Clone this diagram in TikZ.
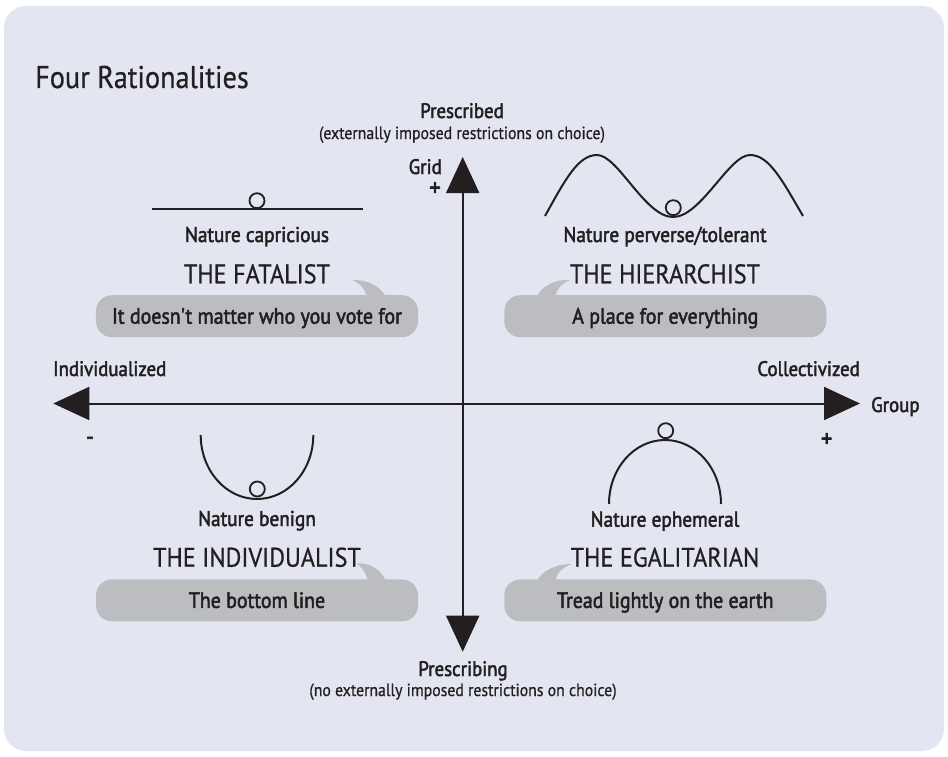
\documentclass[tikz,border=0pt]{standalone}
\usepackage{fontspec}
\setmainfont{PT Sans}[FakeStretch=0.9,FakeBold=0.6]
\newfontfamily\medfont{PT Sans}[FakeStretch=0.9,FakeBold=2.2]
\usetikzlibrary{arrows.meta}
\definecolor{panelbg}{HTML}{E3E5F1}
\definecolor{bubblegray}{HTML}{BCBDC1}
\definecolor{ink}{HTML}{231F20}
\tikzset {
    axis/.style={draw=ink, line width=2bp},
    curve/.style={draw=ink, line width=2bp},
    ball/.style={circle, draw=ink, line width=1.8bp, minimum size=15bp, inner sep=0pt},
    nature/.style={font=\medfont\fontsize{21.5}{25}\selectfont, anchor=base},
    role/.style={font=\fontsize{27}{32}\selectfont, anchor=base},
    axistag/.style={font=\medfont\fontsize{21}{25}\selectfont},
    sign/.style={font=\medfont\fontsize{25}{30}\selectfont, text height=8bp, text depth=0pt},
    bubble/.style={fill=bubblegray, rounded corners=16bp, minimum width=322bp,
        minimum height=42bp, text height=15bp, text depth=0pt,
        font=\medfont\fontsize{22.2}{26}\selectfont},
    tail/.style={fill=bubblegray}
}
\begin{document}
\begin{tikzpicture}[
  x=1bp, y=-1bp,
  every node/.style={text=ink, inner sep=0pt}
  ]
\useasboundingbox (0,0) rectangle (948,757);
\fill[panelbg, rounded corners=22bp] (4,6) rectangle (944,751);

\node[anchor=base west, font=\fontsize{31.5}{36}\selectfont] (title) at (35,88) {Four Rationalities};

% axes
\coordinate (gW) at (53.3,403.5);
\coordinate (gE) at (860,403.5);
\coordinate (gN) at (462.7,157);
\coordinate (gS) at (462.7,651.7);
\draw[axis, {Triangle[length=36bp, width=33bp]}-{Triangle[length=36bp, width=33bp]}] (gN) -- (gS);
\draw[axis, {Triangle[length=36bp, width=33bp]}-{Triangle[length=36bp, width=33bp]}] (gW) -- (gE);

\node[axistag, anchor=base] (presc) at (462,118) {Prescribed};
\node[anchor=base, font=\fontsize{17.6}{21}\selectfont] (presc-t) at (462,139) {(externally imposed restrictions on choice)};
\node[axistag, anchor=base east] (grid) at (442,174) {Grid};
\node[sign] (grid-p) at (435,192) {+};
\node[sign] (minus) at (90,441) {-};
\node[axistag, anchor=base west] (indiv-t) at (53,376) {Individualized};
\node[axistag, anchor=base east] (coll-t) at (860,376) {Collectivized};
\node[axistag, anchor=base west] (group) at (871,412) {Group};
\node[sign] (group-p) at (826.7,443) {+};
\node[axistag, anchor=base] (prescing) at (463,676) {Prescribing};
\node[anchor=base, font=\fontsize{17.6}{21}\selectfont] (prescing-t) at (463,696) {(no externally imposed restrictions on choice)};

% fatalist
\draw[curve] (151.7,209.3) -- (362.7,209.3);
\node[ball] (fat-o) at (257,200.7) {};
\node[nature] (fat-n) at (257,242) {Nature capricious};
\node[role] (fat-r) at (257,283.3) {THE FATALIST};
\node[bubble] (fat-b) at (257,316.2) {It doesn\textquotesingle t matter who you vote for};
\fill[tail] (351.7,280) .. controls (368,279) and (381,287) .. (386,297) -- (367,297) .. controls (365,289) and (360,283) .. (351.7,280);

% hierarchist
\draw[curve] (545,216) .. controls (565,180) and (578,155) .. (597,155)
  .. controls (618,155) and (645,217) .. (673,217)
  .. controls (701,217) and (729,155) .. (750,155)
  .. controls (769,155) and (782,180) .. (803,216);
\node[ball] (hier-o) at (673.3,207.7) {};
\node[nature] (hier-n) at (665,242) {Nature perverse/tolerant};
\node[role] (hier-r) at (665,283.3) {THE HIERARCHIST};
\node[bubble] (hier-b) at (665.3,316.2) {A place for everything};
\fill[tail] (570,280) .. controls (554,279) and (541,287) .. (537,297) -- (555,297) .. controls (557,289) and (562,283) .. (570,280);

% individualist
\draw[curve] (200.7,435) arc[start angle=180, end angle=360, x radius=56.3bp, y radius=64bp];
\node[ball] (indiv-o) at (257.3,489) {};
\node[nature] (indiv-n) at (257,526) {Nature benign};
\node[role] (indiv-r) at (257,566.7) {THE INDIVIDUALIST};
\node[bubble] (indiv-b) at (257,600.4) {The bottom line};
\fill[tail] (356.7,563.3) .. controls (373,563) and (381,571) .. (386,581) -- (368,581) .. controls (366,573) and (362,567) .. (356.7,563.3);

% egalitarian
\draw[curve] (609,504) arc[start angle=180, end angle=0, x radius=56bp, y radius=64bp];
\node[ball] (egal-o) at (665.7,430.7) {};
\node[nature] (egal-n) at (665,526.7) {Nature ephemeral};
\node[role] (egal-r) at (665,566.7) {THE EGALITARIAN};
\node[bubble] (egal-b) at (665.3,600.4) {Tread lightly on the earth};
\fill[tail] (571.7,564) .. controls (555,564) and (542,571) .. (537,581) -- (555,581) .. controls (557,573) and (563,567) .. (571.7,564);

\end{tikzpicture}
\end{document}
